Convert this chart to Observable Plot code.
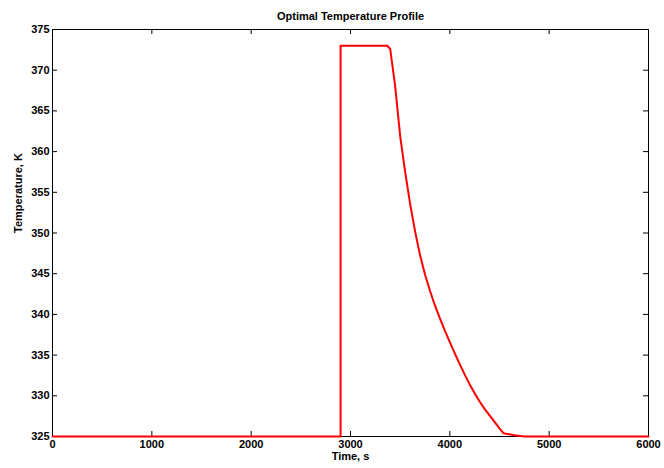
<!DOCTYPE html>
<html>
<head>
<meta charset="utf-8">
<script src="https://cdn.jsdelivr.net/npm/d3@7"></script>
<script src="https://cdn.jsdelivr.net/npm/@observablehq/plot@0.6"></script>
<style>
  html, body { margin: 0; padding: 0; background: #fff; }
  svg { display: block; }
</style>
</head>
<body>
<div id="chart"></div>
<script>
const title = "Optimal Temperature Profile";
const xLabel = "Time, s";
const yLabel = "Temperature, K";
const xTicks = [0, 1000, 2000, 3000, 4000, 5000, 6000];
const yTicks = [325, 330, 335, 340, 345, 350, 355, 360, 365, 370, 375];
const time = [0, 2900, 2900, 3370, 3400, 3450, 3500, 3550, 3600, 3650, 3700, 3750, 3800, 3850, 3900, 3950, 4000, 4050, 4100, 4150, 4200, 4250, 4300, 4350, 4400, 4450, 4500, 4540, 4650, 4750, 6000];
const temperature = [325, 325, 373, 373, 372.6, 368.0, 361.9, 357.5, 353.6, 350.2, 347.3, 344.9, 342.9, 341.1, 339.5, 338.0, 336.6, 335.2, 333.9, 332.6, 331.4, 330.3, 329.3, 328.4, 327.6, 326.8, 326.0, 325.4, 325.15, 325, 325];

const data = time.map((t, i) => ({t, T: temperature[i]}));

const W = 664, H = 468;
const mL = 52, mR = 16, mT = 29, mB = 32;
const fw = W - mL - mR, fh = H - mT - mB;
const tick = 5;

const chart = Plot.plot({
  width: W,
  height: H,
  marginLeft: mL,
  marginRight: mR,
  marginTop: mT,
  marginBottom: mB,
  style: {fontFamily: "'Liberation Sans', Arial, Helvetica, sans-serif", fontWeight: "bold", fontSize: "11px", color: "#000", background: "#fff"},
  x: {domain: [0, 6000]},
  y: {domain: [325, 375]},
  marks: [
    Plot.axisX(xTicks, {tickSize: 0, tickPadding: 4, label: null, tickFormat: d3.format("d"), fontWeight: "bold", fontSize: 11}),
    Plot.axisY(yTicks, {tickSize: 0, tickPadding: 3, label: null, tickFormat: d3.format("d"), fontWeight: "bold", fontSize: 11}),
    Plot.tickX(xTicks, {x: d => d, insetTop: fh - tick, stroke: "#000", strokeWidth: 1}),
    Plot.tickX(xTicks, {x: d => d, insetBottom: fh - tick, stroke: "#000", strokeWidth: 1}),
    Plot.tickY(yTicks, {y: d => d, insetRight: fw - tick, stroke: "#000", strokeWidth: 1}),
    Plot.tickY(yTicks, {y: d => d, insetLeft: fw - tick, stroke: "#000", strokeWidth: 1}),
    Plot.frame({stroke: "#000", strokeWidth: 1}),
    Plot.line(data, {x: "t", y: "T", stroke: "#ff0000", strokeWidth: 2, curve: "linear"}),
    Plot.text([title], {frameAnchor: "top", dy: -17, text: d => d, fontWeight: "bold", fontSize: 11, fill: "#000"}),
    Plot.text([xLabel], {frameAnchor: "bottom", dy: 23, text: d => d, fontWeight: "bold", fontSize: 11, fill: "#000"}),
    Plot.text([yLabel], {frameAnchor: "left", dx: -34, rotate: -90, text: d => d, fontWeight: "bold", fontSize: 11, fill: "#000"})
  ]
});
document.getElementById("chart").appendChild(chart);
</script>
</body>
</html>
